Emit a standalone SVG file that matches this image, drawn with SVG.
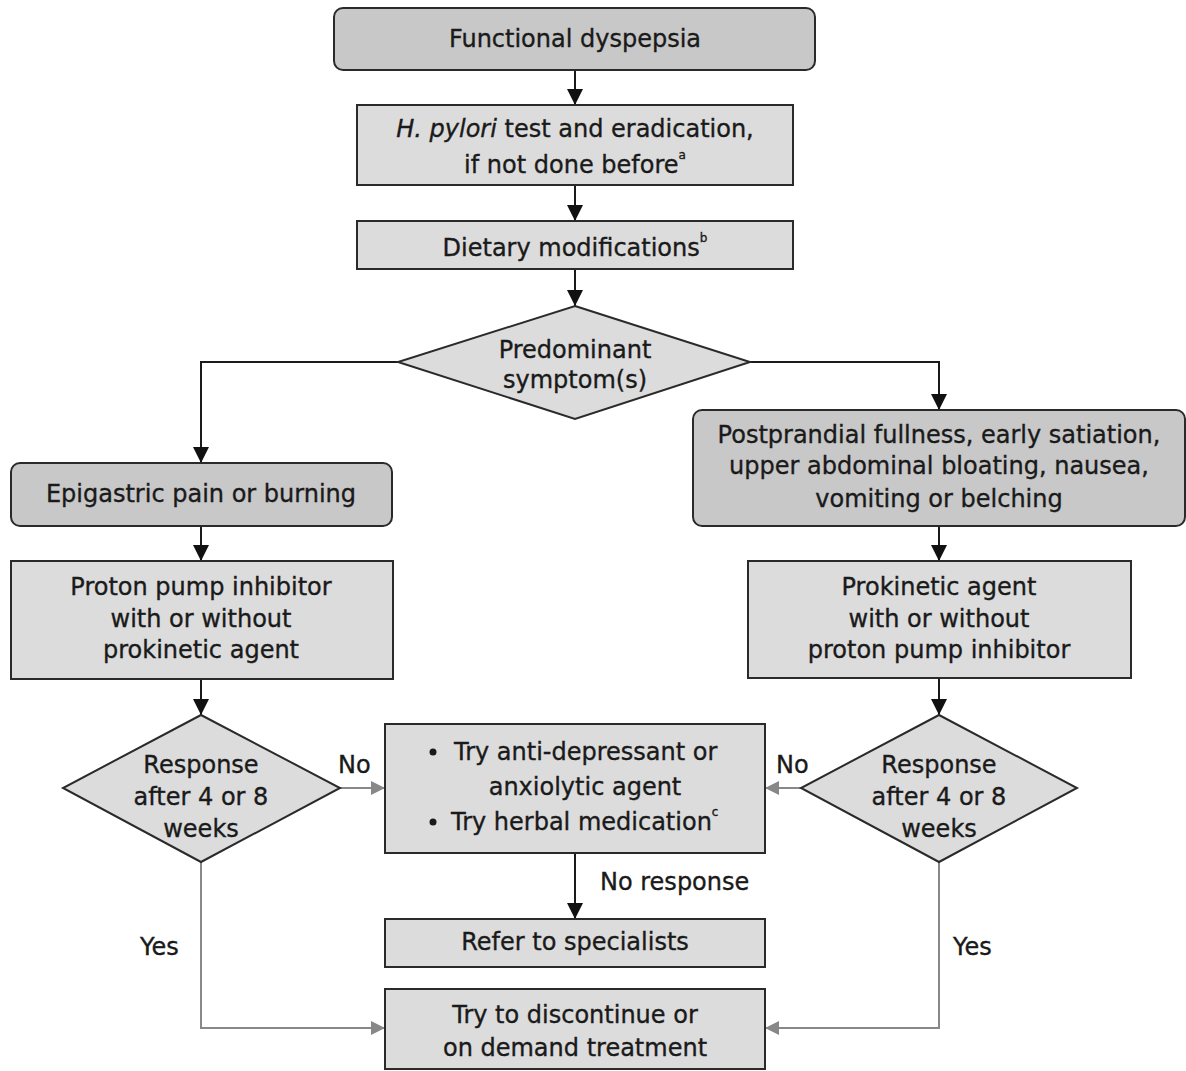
<svg xmlns="http://www.w3.org/2000/svg" width="1186" height="1071" viewBox="0 0 1186 1071">
<defs>
<style>
.dark{fill:#c8c8c8;stroke:#2a2a2a;stroke-width:2}
.light{fill:#dcdcdc;stroke:#2a2a2a;stroke-width:2}
.t{font-family:"DejaVu Sans","Liberation Sans",sans-serif;font-size:24px;fill:#1a1a1a;stroke:#1a1a1a;stroke-width:0.35;text-anchor:middle}
.tl{font-family:"DejaVu Sans","Liberation Sans",sans-serif;font-size:24px;fill:#1a1a1a;stroke:#1a1a1a;stroke-width:0.35}
.sup{font-size:12px}
.k{fill:none;stroke:#1a1a1a;stroke-width:2}
.g{fill:none;stroke:#888;stroke-width:2}
</style>
<marker id="ah" markerWidth="16" markerHeight="16" refX="16" refY="8" orient="auto" markerUnits="userSpaceOnUse"><path d="M0,0 L16,8 L0,16 z" fill="#111"/></marker>
<marker id="ag" markerWidth="14" markerHeight="14" refX="14" refY="7" orient="auto" markerUnits="userSpaceOnUse"><path d="M0,0 L14,7 L0,14 z" fill="#888"/></marker>
</defs>
<rect width="1186" height="1071" fill="#fff"/>

<g id="connectors">
<line class="k" x1="575" y1="70" x2="575" y2="105" marker-end="url(#ah)"/>
<line class="k" x1="575" y1="185" x2="575" y2="221" marker-end="url(#ah)"/>
<line class="k" x1="575" y1="269" x2="575" y2="306" marker-end="url(#ah)"/>
<polyline class="k" points="398,362 201,362 201,463" marker-end="url(#ah)"/>
<polyline class="k" points="750,362 939,362 939,410" marker-end="url(#ah)"/>
<line class="k" x1="201" y1="526" x2="201" y2="561" marker-end="url(#ah)"/>
<line class="k" x1="939" y1="526" x2="939" y2="561" marker-end="url(#ah)"/>
<line class="k" x1="201" y1="679" x2="201" y2="715" marker-end="url(#ah)"/>
<line class="k" x1="939" y1="678" x2="939" y2="715" marker-end="url(#ah)"/>
<line class="g" x1="340" y1="788" x2="385" y2="788" marker-end="url(#ag)"/>
<line class="g" x1="801" y1="788" x2="765" y2="788" marker-end="url(#ag)"/>
<line class="k" x1="575" y1="853" x2="575" y2="919" marker-end="url(#ah)"/>
<polyline class="g" points="201,862 201,1028 385,1028" marker-end="url(#ag)"/>
<polyline class="g" points="939,862 939,1028 765,1028" marker-end="url(#ag)"/>
<text class="tl" x="338" y="773">No</text>
<text class="tl" x="776" y="773">No</text>
<text class="tl" x="600" y="890">No response</text>
<text class="tl" x="140" y="955">Yes</text>
<text class="tl" x="953" y="955">Yes</text>
</g>

<g id="n-fd">
<rect class="dark" x="334" y="8" width="481" height="62" rx="9"/>
<text class="t" x="575" y="47">Functional dyspepsia</text>
</g>
<g id="n-hp">
<rect class="light" x="357" y="105" width="436" height="80"/>
<text class="t" x="575" y="137"><tspan font-style="italic">H. pylori</tspan> test and eradication,</text>
<text class="t" x="575" y="173">if not done before<tspan class="sup" dy="-14">a</tspan></text>
</g>
<g id="n-diet">
<rect class="light" x="357" y="221" width="436" height="48"/>
<text class="t" x="575" y="256">Dietary modifications<tspan class="sup" dy="-14">b</tspan></text>
</g>
<g id="n-pred">
<polygon class="light" points="575,306 750,362 575,419 398,362"/>
<text class="t" x="575" y="358">Predominant</text>
<text class="t" x="575" y="388">symptom(s)</text>
</g>
<g id="n-epi">
<rect class="dark" x="11" y="463" width="381" height="63" rx="9"/>
<text class="t" x="201" y="502">Epigastric pain or burning</text>
</g>
<g id="n-post">
<rect class="dark" x="693" y="410" width="492" height="116" rx="9"/>
<text class="t" x="939" y="443">Postprandial fullness, early satiation,</text>
<text class="t" x="939" y="474">upper abdominal bloating, nausea,</text>
<text class="t" x="939" y="507">vomiting or belching</text>
</g>
<g id="n-ppi">
<rect class="light" x="11" y="561" width="382" height="118"/>
<text class="t" x="201" y="595">Proton pump inhibitor</text>
<text class="t" x="201" y="627">with or without</text>
<text class="t" x="201" y="658">prokinetic agent</text>
</g>
<g id="n-pro">
<rect class="light" x="748" y="561" width="383" height="117"/>
<text class="t" x="939" y="595">Prokinetic agent</text>
<text class="t" x="939" y="627">with or without</text>
<text class="t" x="939" y="658">proton pump inhibitor</text>
</g>
<g id="n-respL">
<polygon class="light" points="201,715 340,788 201,862 63,788"/>
<text class="t" x="201" y="773">Response</text>
<text class="t" x="201" y="805">after 4 or 8</text>
<text class="t" x="201" y="837">weeks</text>
</g>
<g id="n-respR">
<polygon class="light" points="939,715 1077,788 939,862 801,788"/>
<text class="t" x="939" y="773">Response</text>
<text class="t" x="939" y="805">after 4 or 8</text>
<text class="t" x="939" y="837">weeks</text>
</g>
<g id="n-try">
<rect class="light" x="385" y="724" width="380" height="129"/>
<circle cx="433" cy="752" r="3.5" fill="#1a1a1a"/>
<text class="tl" x="454" y="760">Try anti-depressant or</text>
<text class="t" x="585" y="795">anxiolytic agent</text>
<circle cx="433" cy="822" r="3.5" fill="#1a1a1a"/>
<text class="tl" x="451" y="830">Try herbal medication<tspan class="sup" dy="-14">c</tspan></text>
</g>
<g id="n-refer">
<rect class="light" x="385" y="919" width="380" height="48"/>
<text class="t" x="575" y="950">Refer to specialists</text>
</g>
<g id="n-disc">
<rect class="light" x="385" y="989" width="380" height="80"/>
<text class="t" x="575" y="1023">Try to discontinue or</text>
<text class="t" x="575" y="1056">on demand treatment</text>
</g>
</svg>
